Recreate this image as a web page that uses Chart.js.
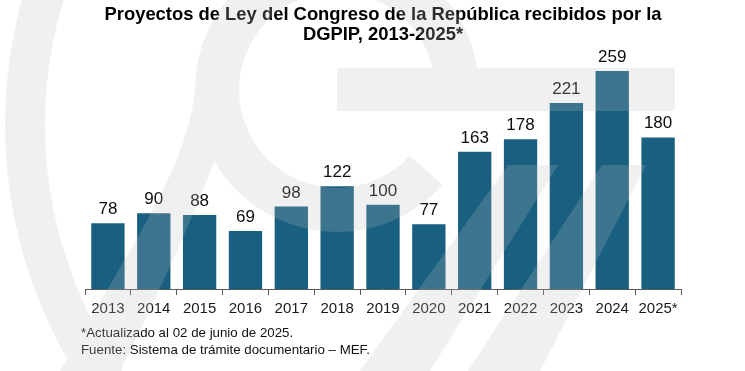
<!DOCTYPE html>
<html>
<head>
<meta charset="utf-8">
<script src="https://cdn.jsdelivr.net/npm/chart.js@4.4.1/dist/chart.umd.min.js"></script>
<style>
  html, body { margin: 0; padding: 0; background: #ffffff; }
  #wrap { position: relative; width: 745px; height: 371px; }
  canvas { display: block; }
</style>
</head>
<body>
<div id="wrap"><canvas id="c" width="745" height="371"></canvas></div>
<script>
// ---- data ----
const years = ['2013','2014','2015','2016','2017','2018','2019','2020','2021','2022','2023','2024','2025*'];
const proyectos = [78, 90, 88, 69, 98, 122, 100, 77, 163, 178, 221, 259, 180];
const titleLines = ['Proyectos de Ley del Congreso de la República recibidos por la', 'DGPIP, 2013-2025*'];
const footnotes = ['*Actualizado al 02 de junio de 2025.', 'Fuente: Sistema de trámite documentario – MEF.'];

const FONT = "'Liberation Sans', Arial, Helvetica, sans-serif";
const BAR = '#185F80';

// value labels above bars
const valueLabels = {
  id: 'valueLabels',
  afterDatasetsDraw(chart) {
    const ctx = chart.ctx;
    const meta = chart.getDatasetMeta(0);
    ctx.save();
    ctx.font = '17px ' + FONT;
    ctx.fillStyle = '#0d0d0d';
    ctx.textAlign = 'center';
    ctx.textBaseline = 'alphabetic';
    meta.data.forEach((el, i) => {
      ctx.fillText(String(chart.data.datasets[0].data[i]), el.x, el.y - 9);
    });
    ctx.restore();
  }
};

// footnotes + faint watermark
const extras = {
  id: 'extras',
  afterDraw(chart) {
    const ctx = chart.ctx;
    ctx.save();
    ctx.font = '13.3px ' + FONT;
    ctx.fillStyle = '#111111';
    ctx.textAlign = 'left';
    ctx.textBaseline = 'alphabetic';
    ctx.fillText(footnotes[0], 81, 337);
    ctx.fillText(footnotes[1], 81, 354);
    ctx.restore();

    // watermark (decorative logo), drawn on an offscreen canvas then blended
    const off = document.createElement('canvas');
    off.width = chart.width; off.height = chart.height;
    const o = off.getContext('2d');
    o.fillStyle = 'rgb(190,190,190)';
    const D = Math.PI / 180;
    const poly = (pts) => {
      o.beginPath();
      pts.forEach((p, i) => i ? o.lineTo(p[0], p[1]) : o.moveTo(p[0], p[1]));
      o.closePath(); o.fill();
    };
    // big outer C ring
    o.beginPath();
    o.arc(475, 125, 470, 90 * D, 270 * D, false);
    o.arc(475, 125, 430, 270 * D, 90 * D, true);
    o.closePath(); o.fill();
    // "e" ring
    o.beginPath();
    o.arc(337, 90, 142, 42 * D, 360 * D, false);
    o.arc(337, 90, 98, 360 * D, 42 * D, true);
    o.closePath(); o.fill();
    // sweeping tail on the left (smooth)
    o.beginPath();
    o.moveTo(196, 80);
    o.bezierCurveTo(190, 160, 150, 215, 60, 371);
    o.lineTo(120, 371);
    o.bezierCurveTo(175, 260, 215, 170, 240, 85);
    o.closePath(); o.fill();
    // horizontal bar
    o.fillRect(337, 68, 338, 43);
    // slanted stripes
    poly([[508,165],[558,165],[430,371],[360,371]]);
    poly([[602,165],[646,165],[540,371],[468,371]]);
    ctx.save();
    ctx.globalAlpha = 0.23;
    ctx.drawImage(off, 0, 0);
    ctx.restore();
  }
};

new Chart(document.getElementById('c'), {
  type: 'bar',
  data: {
    labels: years,
    datasets: [{
      data: proyectos,
      backgroundColor: BAR,
      borderWidth: 0,
      barPercentage: 0.727,
      categoryPercentage: 1.0
    }]
  },
  options: {
    responsive: false,
    animation: false,
    devicePixelRatio: 1,
    layout: { padding: { left: 85, right: 64, top: 0, bottom: 48 } },
    plugins: {
      legend: { display: false },
      tooltip: { enabled: false },
      title: {
        display: true,
        text: titleLines,
        color: '#000000',
        font: { family: FONT, size: 18.4, weight: 'bold', lineHeight: 1.09 },
        padding: { top: 4.5, bottom: 8.7 }
      }
    },
    scales: {
      x: {
        grid: { display: true, drawOnChartArea: false, drawTicks: true, tickLength: 6, color: '#595959', offset: true },
        border: { display: true, color: '#595959', width: 1 },
        ticks: { color: '#1a1a1a', font: { family: FONT, size: 15 }, padding: 5, maxRotation: 0, autoSkip: false }
      },
      y: { display: false, min: 0, max: 280 }
    }
  },
  plugins: [valueLabels, extras]
});
</script>
</body>
</html>
